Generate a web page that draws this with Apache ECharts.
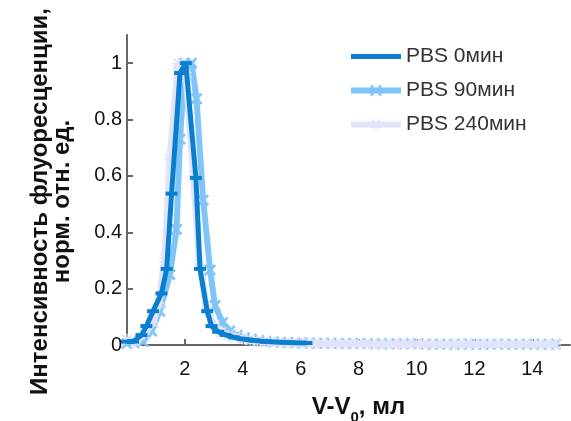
<!DOCTYPE html>
<html><head><meta charset="utf-8">
<script src="https://cdn.jsdelivr.net/npm/echarts@6/dist/echarts.min.js"></script>
<style>html,body{margin:0;padding:0;background:#fff}#c{width:571px;height:421px}</style>
</head><body><div id="c"></div>
<script>
const seriesNames = ['PBS 0мин', 'PBS 90мин', 'PBS 240мин'];
const xTicks = [2, 4, 6, 8, 10, 12, 14];
const yTicks = [0, 0.2, 0.4, 0.6, 0.8, 1];

const x0 = [0, 0.21, 0.5, 0.67, 0.9, 1.19, 1.37, 1.54, 1.83, 2.03, 2.38, 2.52, 2.77, 2.92, 3.15, 3.4, 3.7, 4.0, 4.4, 4.8, 5.3, 5.8, 6.2];
const y0 = [0.012, 0.012, 0.035, 0.067, 0.12, 0.183, 0.27, 0.537, 0.965, 1.0, 0.593, 0.27, 0.12, 0.067, 0.047, 0.036, 0.027, 0.021, 0.016, 0.012, 0.01, 0.008, 0.007];

const x90 = [0, 0.25, 0.55, 0.85, 1.13, 1.48, 1.71, 1.83, 2.0, 2.23, 2.4, 2.63, 2.87, 3.04, 3.3, 3.55, 3.8, 4.05, 4.3, 4.55, 4.8, 5.05, 5.3, 5.55, 5.8, 6.05, 6.3, 6.55, 6.8, 7.05, 7.3, 7.55, 7.8, 8.05, 8.3, 8.55, 8.8, 9.05, 9.3, 9.55, 9.8, 10.05, 10.3, 10.55, 10.8, 11.05, 11.3, 11.55, 11.8, 12.05, 12.3, 12.55, 12.8, 13.05, 13.3, 13.55, 13.8, 14.05, 14.3, 14.55, 14.8];
const y90 = [0.005, 0.008, 0.012, 0.05, 0.12, 0.25, 0.41, 0.73, 1.0, 1.0, 0.874, 0.514, 0.266, 0.14, 0.08, 0.05, 0.035, 0.026, 0.02, 0.016, 0.013, 0.011, 0.01, 0.009, 0.008, 0.007, 0.007, 0.006, 0.006, 0.006, 0.005, 0.005, 0.005, 0.005, 0.005, 0.004, 0.004, 0.004, 0.004, 0.004, 0.004, 0.004, 0.003, 0.003, 0.003, 0.003, 0.003, 0.003, 0.003, 0.003, 0.003, 0.003, 0.003, 0.003, 0.003, 0.003, 0.003, 0.003, 0.003, 0.003, 0.003];

const x240 = [0, 0.3, 0.6, 0.9, 1.1, 1.31, 1.48, 1.77, 2.05, 2.3, 2.5, 2.75, 3.0, 3.25, 3.5, 3.75, 4.0, 4.25, 4.5, 4.75, 5.0, 5.25, 5.5, 5.75, 6.0, 6.25, 6.5, 6.75, 7.0, 7.25, 7.5, 7.75, 8.0, 8.25, 8.5, 8.75, 9.0, 9.25, 9.5, 9.75, 10.0, 10.25, 10.5, 10.75, 11.0, 11.25, 11.5, 11.75, 12.0, 12.25, 12.5, 12.75, 13.0, 13.25, 13.5, 13.75, 14.0, 14.25, 14.5, 14.8];
const y240 = [0.02, 0.01, 0.04, 0.08, 0.15, 0.31, 0.66, 1.0, 0.95, 0.6, 0.3, 0.13, 0.07, 0.045, 0.035, 0.028, 0.022, 0.018, 0.015, 0.012, 0.01, 0.009, 0.008, 0.007, 0.006, 0.006, 0.005, 0.005, 0.005, 0.004, 0.004, 0.004, 0.004, 0.004, 0.003, 0.003, 0.003, 0.003, 0.003, 0.003, 0.003, 0.003, 0.003, 0.003, 0.003, 0.003, 0.003, 0.003, 0.003, 0.003, 0.003, 0.003, 0.003, 0.003, 0.003, 0.003, 0.003, 0.003, 0.003, 0.003];

function pairs(xs, ys) { return xs.map((x, i) => [x, ys[i]]); }

const FONT = 'Liberation Sans, Arial, sans-serif';
const C0 = '#0a7fd0', C90 = '#80c5f7', C240 = '#e1e3fb';
const xSym = 'path://M0,1.6L1.6,0L10,8.4L8.4,10Z M8.4,0L10,1.6L1.6,10L0,8.4Z';
const starSym = 'path://M4.4,0L5.6,0L5.6,10L4.4,10Z M0,4.4L10,4.4L10,5.6L0,5.6Z M0,1L1,0L10,9L9,10Z M9,0L10,1L1,10L0,9Z';
const icon0 = 'path://M0,4.5L50,4.5L50,9.5L0,9.5Z';
const icon90 = 'path://M0,4L50,4L50,10L0,10Z M19,2.6L20.6,1L31,11.4L29.4,13Z M29.4,1L31,2.6L20.6,13L19,11.4Z';
const icon240 = 'path://M0,4L50,4L50,10L0,10Z M24.4,1L25.6,1L25.6,13L24.4,13Z M20,2L21,1L30,11L29,12Z M29,1L30,2L21,12L20,11Z';

const chart = echarts.init(document.getElementById('c'), null, {renderer: 'canvas'});
chart.setOption({
  animation: false,
  backgroundColor: '#fff',
  grid: {left: 127, right: 1, top: 35, bottom: 76, containLabel: false, outerBoundsMode: 'none'},
  legend: {
    orient: 'vertical', left: 346, top: 41, itemWidth: 50, itemHeight: 14, itemGap: 13,
    data: [
      {name: seriesNames[0], icon: icon0},
      {name: seriesNames[1], icon: icon90},
      {name: seriesNames[2], icon: icon240}
    ],
    textStyle: {fontFamily: FONT, fontSize: 21, color: '#333'}
  },
  xAxis: {
    type: 'value', min: 0, max: 15.3,
    name: '{a|V-V}{s|0}{a|, мл}', nameLocation: 'middle', nameGap: 50,
    nameTextStyle: {padding: [0, 0, 0, 20], rich: {
      a: {fontFamily: FONT, fontSize: 24, fontWeight: 'bold', color: '#111'},
      s: {fontFamily: FONT, fontSize: 15, fontWeight: 'bold', color: '#111', verticalAlign: 'bottom', padding: [0, 0, -6, 0]}
    }},
    axisLine: {lineStyle: {color: '#666', width: 2}},
    axisTick: {inside: true, length: 6, customValues: xTicks, lineStyle: {color: '#666', width: 2}},
    axisLabel: {customValues: xTicks, fontFamily: FONT, fontSize: 20, color: '#111', margin: 14},
    splitLine: {show: false}
  },
  yAxis: {
    type: 'value', min: 0, max: 1.1,
    name: 'Интенсивность флуоресценции,\nнорм. отн. ед.', nameLocation: 'middle', nameGap: 54, nameRotate: 90,
    nameTextStyle: {fontFamily: FONT, fontSize: 24, fontWeight: 'bold', color: '#111', lineHeight: 22, padding: [0, 23, 0, 0]},
    axisLine: {show: true, lineStyle: {color: '#666', width: 2}},
    axisTick: {show: true, inside: true, length: 6, customValues: yTicks, lineStyle: {color: '#666', width: 2}},
    axisLabel: {customValues: yTicks, fontFamily: FONT, fontSize: 20, color: '#111', margin: 5},
    splitLine: {show: false}
  },
  series: [
    {name: seriesNames[1], type: 'line', data: pairs(x90, y90), color: C90,
     lineStyle: {width: 6, color: C90}, symbol: xSym, symbolSize: 12, showAllSymbol: true,
     itemStyle: {color: C90}, z: 2},
    {name: seriesNames[2], type: 'line', data: pairs(x240, y240), color: C240,
     lineStyle: {width: 7, color: C240}, symbol: starSym, symbolSize: 11, showAllSymbol: true,
     itemStyle: {color: C240}, z: 3},
    {name: seriesNames[0], type: 'line', data: pairs(x0, y0), color: C0,
     lineStyle: {width: 5, color: C0}, symbol: 'rect', symbolSize: [12, 4], showAllSymbol: true,
     itemStyle: {color: C0}, z: 4}
  ]
});
</script></body></html>
